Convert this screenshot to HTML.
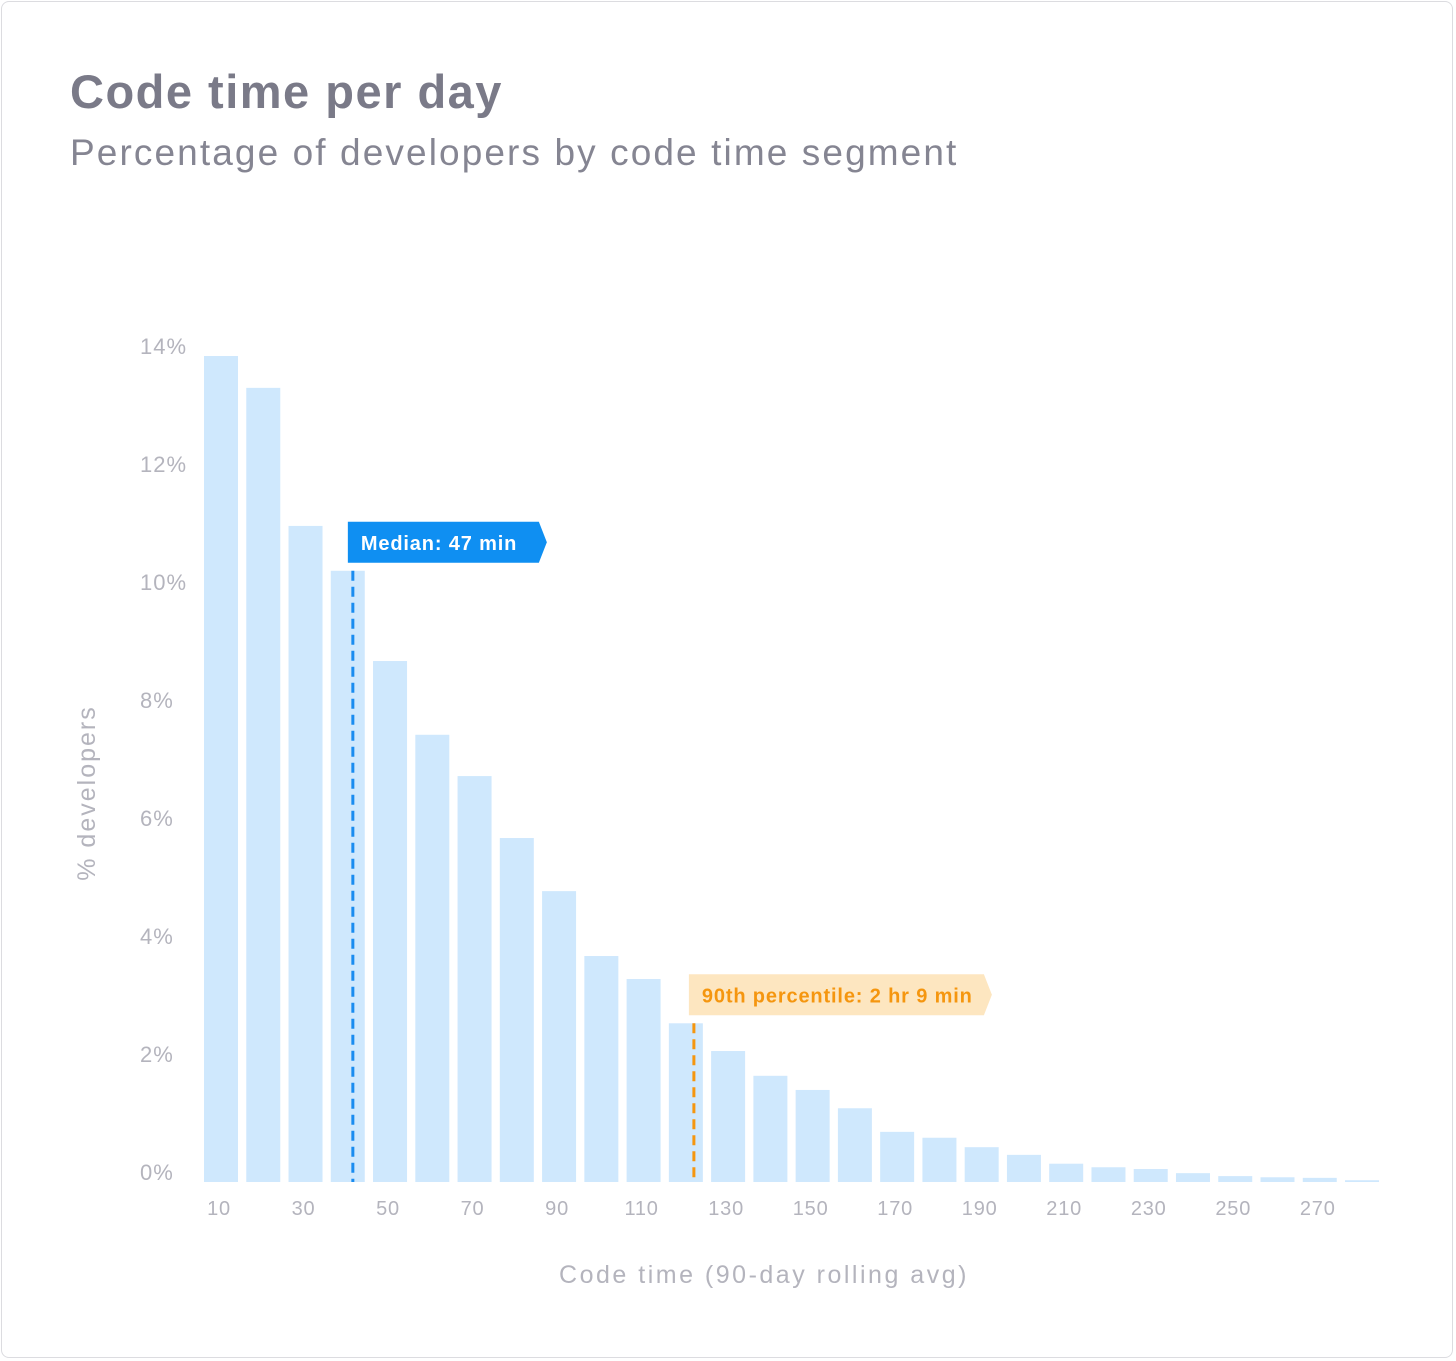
<!DOCTYPE html>
<html><head><meta charset="utf-8">
<style>
html,body{margin:0;padding:0;background:#fff;}
body{width:1456px;height:1361px;position:relative;overflow:hidden;font-family:"Liberation Sans",sans-serif;}
#card{position:absolute;left:1px;top:1px;width:1452px;height:1357px;border:1px solid #dcdce0;border-radius:8px;box-sizing:border-box;}
#title{position:absolute;left:70px;top:64px;font-size:47px;font-weight:bold;color:#7a7a88;margin:0;letter-spacing:1.5px;}
#sub{position:absolute;left:70px;top:132px;font-size:37px;color:#858592;margin:0;letter-spacing:2.1px;}
svg{position:absolute;left:0;top:0;}
</style></head><body>
<div id="card"></div>
<h1 id="title">Code time per day</h1>
<p id="sub">Percentage of developers by code time segment</p>
<svg id="chart" width="1456" height="1361">
<text x="95" y="793" transform="rotate(-90 95 793)" text-anchor="middle" font-size="25" letter-spacing="2" fill="#b4b4bd" font-family="Liberation Sans, sans-serif">% developers</text>
<text x="764" y="1283" text-anchor="middle" font-size="25" letter-spacing="2.5" fill="#b4b4bd" font-family="Liberation Sans, sans-serif">Code time (90-day rolling avg)</text>
</svg>
<script>
const categories=[10,20,30,40,50,60,70,80,90,100,110,120,130,140,150,160,170,180,190,200,210,220,230,240,250,260,270,280];
const values=[14.0,13.46,11.12,10.36,8.83,7.58,6.88,5.83,4.93,3.83,3.44,2.69,2.22,1.80,1.56,1.25,0.85,0.75,0.59,0.46,0.31,0.25,0.22,0.15,0.10,0.08,0.07,0.03];
const yTicks=[0,2,4,6,8,10,12,14];
const xTickLabels=[10,30,50,70,90,110,130,150,170,190,210,230,250,270];
const markerValues=[41.2,121.9];
const markerLabels=["Median: 47 min","90th percentile: 2 hr 9 min"];

const NS="http://www.w3.org/2000/svg";
const svg=document.getElementById('chart');
const y0=1182, pxPerPct=59;
const y=v=>y0-v*pxPerPct;
const pitch=42.26, firstCenter=221, barW=34;
const x=v=>firstCenter+(v-categories[0])/10*pitch;
function mk(tag,attrs){const e=document.createElementNS(NS,tag);for(const k in attrs)e.setAttribute(k,attrs[k]);svg.appendChild(e);return e;}

yTicks.forEach(t=>{
  const e=mk('text',{x:140,y:y(t)-2,'font-size':22,'letter-spacing':1,fill:'#b4b4bd','font-family':'Liberation Sans, sans-serif'});
  e.textContent=t+'%';
  
  
});
categories.forEach((c,i)=>{
  const b=mk('rect',{x:x(c)-barW/2,y:y(values[i]),width:barW,height:values[i]*pxPerPct,fill:'#cfe8fd'});
  
  
});
xTickLabels.forEach(c=>{
  const e=mk('text',{x:x(c)-2,y:1215,'text-anchor':'middle','font-size':20,'letter-spacing':0.8,fill:'#b4b4bd','font-family':'Liberation Sans, sans-serif'});
  e.textContent=c;
  
  
});
const mstyle=[{line:'#1a8cf0',bg:'#0f8ff2',fg:'#ffffff',w:199},{line:'#f5960f',bg:'#fde6c0',fg:'#f5960f',w:303}];
markerValues.forEach((v,i)=>{
  const mx=x(v);
  const idx=Math.max(0,Math.min(values.length-1,Math.round((v-categories[0])/10)));
  const top=y(values[idx]);
  const s=mstyle[i];
  const ln=mk('line',{x1:mx,x2:mx,y1:top,y2:y0,stroke:s.line,'stroke-width':3,'stroke-dasharray':'10 6'});
  
  
  const lx=mx-5, ly=top-49, h=41, w=s.w;
  const p=mk('polygon',{points:`${lx},${ly} ${lx+w-8},${ly} ${lx+w},${ly+h/2} ${lx+w-8},${ly+h} ${lx},${ly+h}`,fill:s.bg});
  
  
  const t=mk('text',{x:lx+13,y:ly+28,'font-size':20,'font-weight':'bold','letter-spacing':0.85,fill:s.fg,'font-family':'Liberation Sans, sans-serif'});
  t.textContent=markerLabels[i];
  
  
});
</script>
</body></html>
